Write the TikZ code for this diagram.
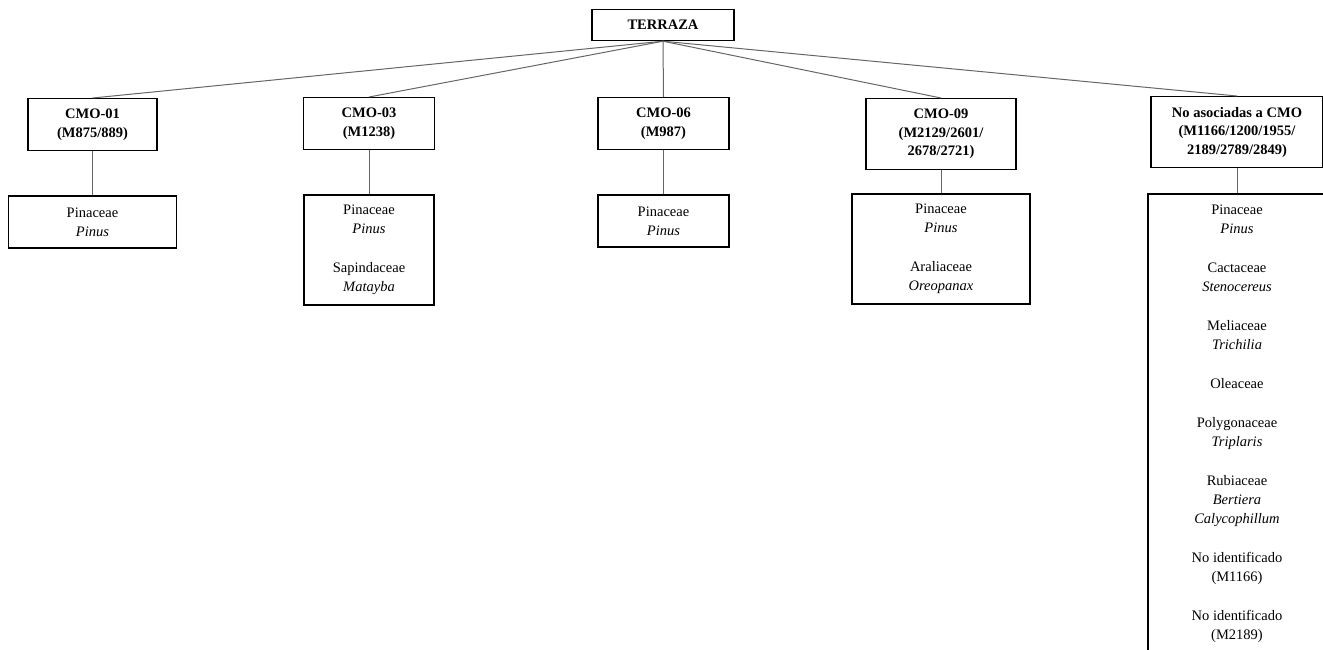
\documentclass[tikz,border=0pt]{standalone}
\usepackage{fontspec}
\setmainfont{Liberation Serif}
\usetikzlibrary{positioning}

\begin{document}
\begin{tikzpicture}[x=1pt, y=-1pt,
    hdr/.style={draw, line width=1.4pt, font=\bfseries\fontsize{14.5}{18.5}\selectfont, align=center, minimum height=52pt, anchor=north},
    tax/.style={draw, line width=1.4pt, font=\fontsize{14.5}{19}\selectfont, align=center, minimum height=52pt},
    ln/.style={draw=black!60, line width=1pt}]
  \useasboundingbox (0,0) rectangle (1323,649);
  % top level and the five groups
  \node[hdr, anchor=center, minimum width=142pt, minimum height=31pt] (t) at (663,25) {TERRAZA};
  \node[hdr, minimum width=129pt] (c1) at (92.5,98) {CMO-01\\(M875/889)};
  \node[hdr, minimum width=131pt] (c3) at (369,97) {CMO-03\\(M1238)};
  \node[hdr, minimum width=131pt] (c6) at (663.5,97) {CMO-06\\(M987)};
  \node[hdr, minimum width=150pt, minimum height=71pt] (c9) at (941,98) {CMO-09\\(M2129/2601/\\2678/2721)};
  \node[hdr, minimum width=172pt, minimum height=71pt] (c10) at (1237,96) {No asociadas a CMO\\(M1166/1200/1955/\\2189/2789/2849)};
  % taxa under each group
  \node[tax, below=44pt of c1, minimum width=168pt] (k1) {Pinaceae\\\textit{Pinus}};
  \node[tax, below=44pt of c3, minimum width=130pt, minimum height=110pt] (k3) {Pinaceae\\\textit{Pinus}\\[20pt]Sapindaceae\\\textit{Matayba}};
  \node[tax, below=44pt of c6, minimum width=131pt] (k6) {Pinaceae\\\textit{Pinus}};
  \node[tax, below=23pt of c9, minimum width=178pt, minimum height=110pt] (k9) {Pinaceae\\\textit{Pinus}\\[20pt]Araliaceae\\\textit{Oreopanax}};
  \node[tax, below=25pt of c10, minimum width=178pt, minimum height=0pt, inner ysep=11pt] (k10) {Pinaceae\\\textit{Pinus}\\[20pt]Cactaceae\\\textit{Stenocereus}\\[20pt]Meliaceae\\\textit{Trichilia}\\[20pt]Oleaceae\\[20pt]Polygonaceae\\\textit{Triplaris}\\[20pt]Rubiaceae\\\textit{Bertiera}\\\textit{Calycophillum}\\[20pt]No identificado\\(M1166)\\[20pt]No identificado\\(M2189)\\\phantom{(M2189)}};
  \foreach \p/\k in {c1/k1, c3/k3, c6/k6, c9/k9, c10/k10} {
    \draw[ln] (t.south) -- (\p.north);
    \draw[ln] (\p.south) -- (\k.north);
  }
\end{tikzpicture}
\end{document}
